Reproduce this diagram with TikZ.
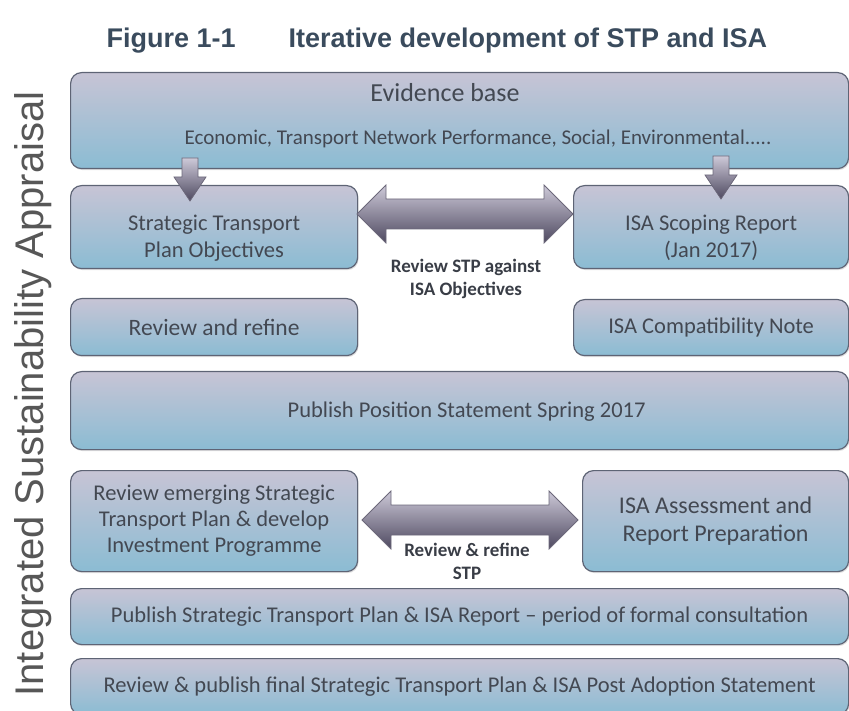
\documentclass[tikz,border=0pt]{standalone}
\usepackage{fontspec}
\setmainfont{Carlito}
\newfontfamily\headfont{Liberation Sans}
\usetikzlibrary{shadows}

\definecolor{boxtop}{HTML}{C7C4D5}
\definecolor{boxbot}{HTML}{8BBCD3}
\definecolor{boxline}{HTML}{5E6475}
\definecolor{arrtop}{HTML}{CDC9D8}
\definecolor{arrbot}{HTML}{4E4960}
\definecolor{arrline}{HTML}{6C687A}
\definecolor{ink}{HTML}{434852}
\definecolor{titleink}{HTML}{3A4B5D}
\definecolor{sideink}{HTML}{575757}

\tikzset{
  stage/.style={draw=boxline, line width=1.2pt, rounded corners=11pt,
    top color=boxtop, bottom color=boxbot, anchor=north west,
    inner sep=0pt, align=center, text=ink,
    font=\fontsize{22.5}{26}\selectfont,
    drop shadow={shadow xshift=1pt, shadow yshift=-1.5pt, opacity=0.25}},
  feed/.style={draw=arrline, line width=0.8pt, top color=arrtop, bottom color=arrbot},
  feeder/.pic={\path[feed] (-8,0) -- (8,0) -- (8,19) -- (16,19) -- (0,43)
    -- (-16,19) -- (-8,19) -- cycle;},
  twoway/.pic={\path[feed] (-108,0) -- (-79,-29) -- (-79,-15) -- (79,-15)
    -- (79,-29) -- (108,0) -- (79,29) -- (79,15) -- (-79,15) -- (-79,29) -- cycle;},
  linklabel/.style={font=\bfseries\fontsize{19}{23}\selectfont, text=ink!85!black,
    align=center, anchor=north, inner sep=0pt}
}

\begin{document}
\begin{tikzpicture}[x=1pt, y=-1pt]
	\useasboundingbox (0,0) rectangle (849,711);
	\clip (0,0) rectangle (849,711);

	% caption and side title
	\node[font=\headfont\bfseries\fontsize{27}{30}\selectfont, text=titleink, anchor=base west] (fig) at (103,48) {Figure 1-1};
	\node[font=\headfont\bfseries\fontsize{27}{30}\selectfont, text=titleink, anchor=base west] (caption) at (285,48) {Iterative development of STP and ISA};
	\node[font=\headfont\fontsize{40}{40}\selectfont, text=sideink, rotate=90, anchor=base] (isa) at (43,394) {Integrated Sustainability Appraisal};

	% evidence base
	\node[stage, minimum width=778pt, minimum height=96pt] (evid) at (70,72) {};
	\node[font=\fontsize{26}{30}\selectfont, text=ink, anchor=base] (evtitle) at (445,102) {Evidence base};
	\node[font=\fontsize{21}{25}\selectfont, text=ink, anchor=base] (evlist) at (478,145) {Economic, Transport Network Performance, Social, Environmental.....};

	% objectives and scoping
	\node[stage, minimum width=287pt, minimum height=83pt] (stp) at (70,185) {};
	\node[text=ink, font=\fontsize{22.5}{27}\selectfont, align=center, yshift=-11pt] at (stp) {Strategic Transport\\Plan Objectives};
	\node[stage, minimum width=275pt, minimum height=83pt] (scope) at (573,185) {};
	\node[text=ink, font=\fontsize{22.5}{27}\selectfont, align=center, yshift=-11pt] at (scope) {ISA Scoping Report\\(Jan 2017)};

	\node[stage, minimum width=287pt, minimum height=57pt, font=\fontsize{23.5}{28}\selectfont] (refine) at (70,298) {Review and refine};
	\node[stage, minimum width=275pt, minimum height=56pt] (compat) at (573,299) {ISA Compatibility Note};

	\node[stage, minimum width=778pt, minimum height=78pt] (pos) at (70,371) {};
	\node[text=ink, font=\fontsize{22.5}{27}\selectfont, xshift=7pt, yshift=-1pt] at (pos) {Publish Position Statement Spring 2017};

	% assessment stage
	\node[stage, minimum width=287pt, minimum height=101pt] (emerge) at (70,470) {Review emerging Strategic\\Transport Plan \& develop\\Investment Programme};
	\node[stage, minimum width=266pt, minimum height=101pt, font=\fontsize{24}{28}\selectfont] (assess) at (582,470) {ISA Assessment and\\Report Preparation};

	\node[stage, minimum width=778pt, minimum height=56pt] (pubstp) at (70,588) {Publish Strategic Transport Plan \& ISA Report -- period of formal consultation};
	\node[stage, minimum width=778pt, minimum height=56pt] (final) at (70,658) {Review \& publish final Strategic Transport Plan \& ISA Post Adoption Statement};

	% arrows
	\pic (ev2stp) at (190,158) {feeder};
	\pic (ev2isa) at (721,156) {feeder};
	\pic (rv1) at (465,214) {twoway};
	\pic (rv2) at (470,520) {twoway};
	\node[linklabel] (rv1lbl) at (466,259) {Review STP against\\ISA Objectives};
	\node[linklabel] (rv2lbl) at (467,543) {Review \& refine\\STP};
\end{tikzpicture}
\end{document}
